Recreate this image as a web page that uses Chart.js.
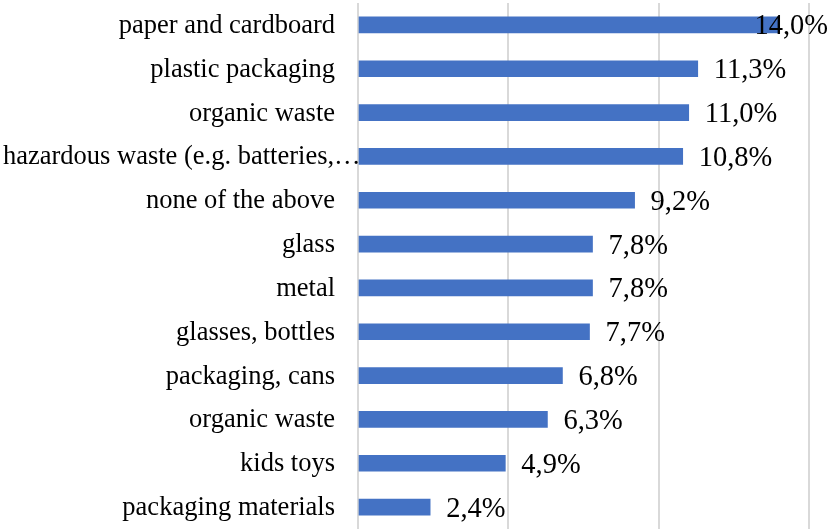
<!DOCTYPE html>
<html>
<head>
<meta charset="utf-8">
<script src="https://cdn.jsdelivr.net/npm/chart.js@4.4.1/dist/chart.umd.min.js"></script>
<style>
  html, body { margin: 0; padding: 0; background: #ffffff; }
  #wrap { position: relative; width: 829px; height: 529px; }
</style>
</head>
<body>
<div id="wrap"><canvas id="chart"></canvas></div>
<script>
const CATEGORIES = [
  'paper and cardboard',
  'plastic packaging',
  'organic waste',
  'hazardous waste (e.g. batteries,\u2026',
  'none of the above',
  'glass',
  'metal',
  'glasses, bottles',
  'packaging, cans',
  'organic waste',
  'kids toys',
  'packaging materials'
];
const SHARES = [14.0, 11.3, 11.0, 10.8, 9.2, 7.8, 7.8, 7.7, 6.8, 6.3, 4.9, 2.4];
const X_MAX = 15;
const X_STEP = 5;

const SERIF = "'Liberation Serif', 'Times New Roman', serif";
const BAR_BLUE = '#4472C4';
const GRID_GREY = '#d9d9d9';

const fmtPct = v => v.toFixed(1).replace('.', ',') + '%';

// category names, right-aligned against the value axis; a name too wide
// for the space is pinned to the left edge instead
const categoryLabels = {
  id: 'categoryLabels',
  afterDraw(chart) {
    const { ctx, scales: { y }, chartArea } = chart;
    ctx.save();
    ctx.font = '26.5px ' + SERIF;
    ctx.fillStyle = '#000000';
    ctx.textBaseline = 'middle';
    ctx.textAlign = 'left';
    CATEGORIES.forEach((name, i) => {
      const w = ctx.measureText(name).width;
      let x = chartArea.left - 23 - w;
      if (x < 3) x = 3;
      ctx.fillText(name, x, y.getPixelForValue(i) + 1);
    });
    ctx.restore();
  }
};

// value labels just past each bar end, kept inside the canvas
const valueLabels = {
  id: 'valueLabels',
  afterDatasetsDraw(chart) {
    const { ctx } = chart;
    const meta = chart.getDatasetMeta(0);
    ctx.save();
    ctx.font = '28.5px ' + SERIF;
    ctx.fillStyle = '#000000';
    ctx.textBaseline = 'middle';
    ctx.textAlign = 'left';
    meta.data.forEach((bar, i) => {
      const text = fmtPct(SHARES[i]);
      const w = ctx.measureText(text).width;
      let x = bar.x + 16;
      if (x + w > chart.width - 1) x = chart.width - 1 - w;
      ctx.fillText(text, x, bar.y + 2);
    });
    ctx.restore();
  }
};

new Chart(document.getElementById('chart'), {
  type: 'bar',
  data: {
    labels: CATEGORIES,
    datasets: [{
      data: SHARES,
      backgroundColor: BAR_BLUE,
      borderWidth: 0,
      barThickness: 16
    }]
  },
  options: {
    indexAxis: 'y',
    responsive: true,
    maintainAspectRatio: false,
    animation: false,
    layout: { padding: { top: 3, right: 20, bottom: 0, left: 0 } },
    scales: {
      x: {
        min: 0,
        max: X_MAX,
        ticks: { display: false, stepSize: X_STEP },
        grid: { color: GRID_GREY, lineWidth: 2, drawTicks: false },
        border: { display: false },
        afterFit: s => { s.height = 0; }
      },
      y: {
        ticks: { display: false },
        grid: { display: false, drawTicks: false },
        border: { display: false },
        afterFit: s => { s.width = 358; }
      }
    },
    plugins: {
      legend: { display: false },
      tooltip: { enabled: false }
    }
  },
  plugins: [categoryLabels, valueLabels]
});
</script>
</body>
</html>
